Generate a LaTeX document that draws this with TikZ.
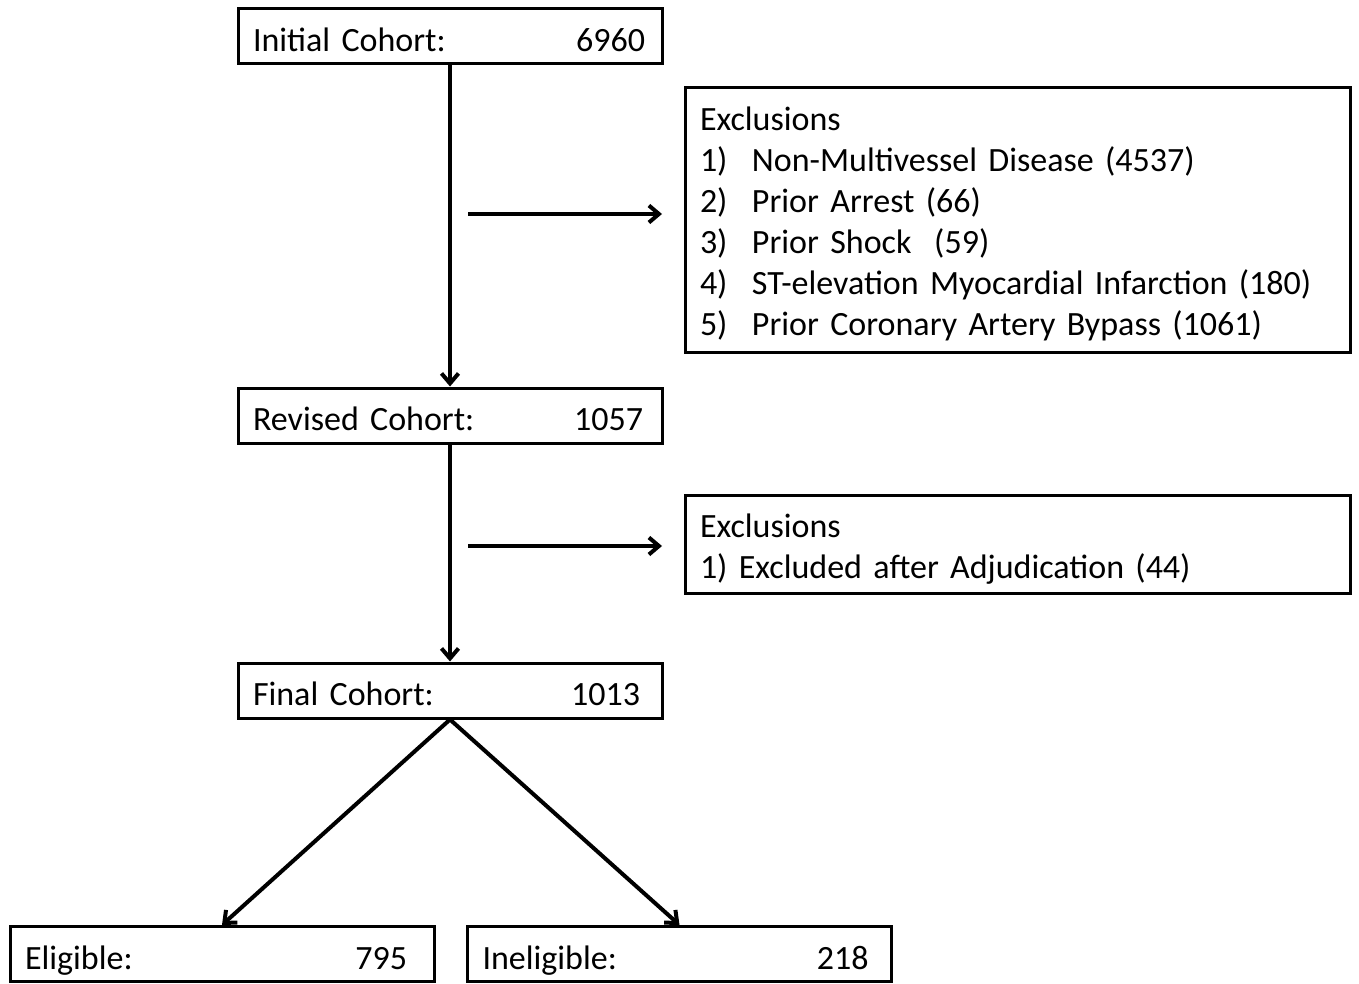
\documentclass[tikz,border=0pt]{standalone}
\usepackage{fontspec}
\setmainfont{Carlito}
\usetikzlibrary{arrows.meta}

\begin{document}
\begin{tikzpicture}[
    x=1pt, y=-1pt,
    font=\fontsize{34}{41}\selectfont,
    % Styles
    cohortbox/.style={
        rectangle,
        draw=black,
        line width=3pt,
        minimum width=424pt,
        minimum height=55pt,
        text width=394pt,
        text height=30pt,
        text depth=0pt,
        inner xsep=15pt,
        inner ysep=0pt
    },
    exclbox/.style={
        rectangle,
        draw=black,
        line width=3pt,
        minimum width=665pt,
        text width=635pt,
        align=left,
        inner xsep=15pt,
        inner ysep=0pt
    },
    arrow/.style={
        -{Straight Barb[length=10pt, width=17pt]},
        draw=black,
        line width=4pt
    }
]
    \useasboundingbox (0,0) rectangle (1359,984);

    % ================= COHORTS =================
    \node[cohortbox] (initial) at (450,36.5) {\makebox[394pt]{Initial Cohort:\hfill 6960\kern2pt}};
    \node[cohortbox] (revised) at (450,415.5) {\makebox[394pt]{Revised Cohort:\hfill 1057\kern4pt}};
    \node[cohortbox] (final) at (450,690.5) {\makebox[394pt]{Final Cohort:\hfill 1013\kern7pt}};

    % ================= EXCLUSIONS =================
    \node[exclbox, minimum height=264pt] (excl1) at (1017.5,220) {
        \rule{0pt}{31pt}Exclusions\\
        \makebox[52pt][l]{1)}Non-Multivessel Disease (4537)\\
        \makebox[52pt][l]{2)}Prior Arrest (66)\\
        \makebox[52pt][l]{3)}Prior Shock\ \ (59)\\
        \makebox[52pt][l]{4)}ST-elevation Myocardial Infarction (180)\\
        \makebox[52pt][l]{5)}Prior Coronary Artery Bypass (1061)
    };
    \node[exclbox, minimum height=98pt] (excl2) at (1017.5,544) {
        \rule{0pt}{34pt}Exclusions\\
        1) Excluded after Adjudication (44)
    };

    % ================= OUTCOMES =================
    \node[cohortbox] (eligible) at (222,954) {\makebox[394pt]{Eligible:\hfill 795\kern12pt}};
    \node[cohortbox] (ineligible) at (679.5,954) {\makebox[394pt]{Ineligible:\hfill 218\kern8pt}};

    % ================= CONNECTIONS / ARROWS =================
    \coordinate (ex1from) at (468,214);
    \coordinate (ex1to) at (662,214);
    \coordinate (ex2from) at (468,546);
    \coordinate (ex2to) at (662,546);

    \draw[arrow] (initial) -- (revised);
    \draw[arrow] (revised) -- (final);
    \draw[arrow] (ex1from) -- (ex1to);
    \draw[arrow] (ex2from) -- (ex2to);

    % Split of final cohort
    \draw[arrow] (final.south) -- (eligible.north);
    \draw[arrow] (final.south) -- (ineligible.north);

\end{tikzpicture}
\end{document}
